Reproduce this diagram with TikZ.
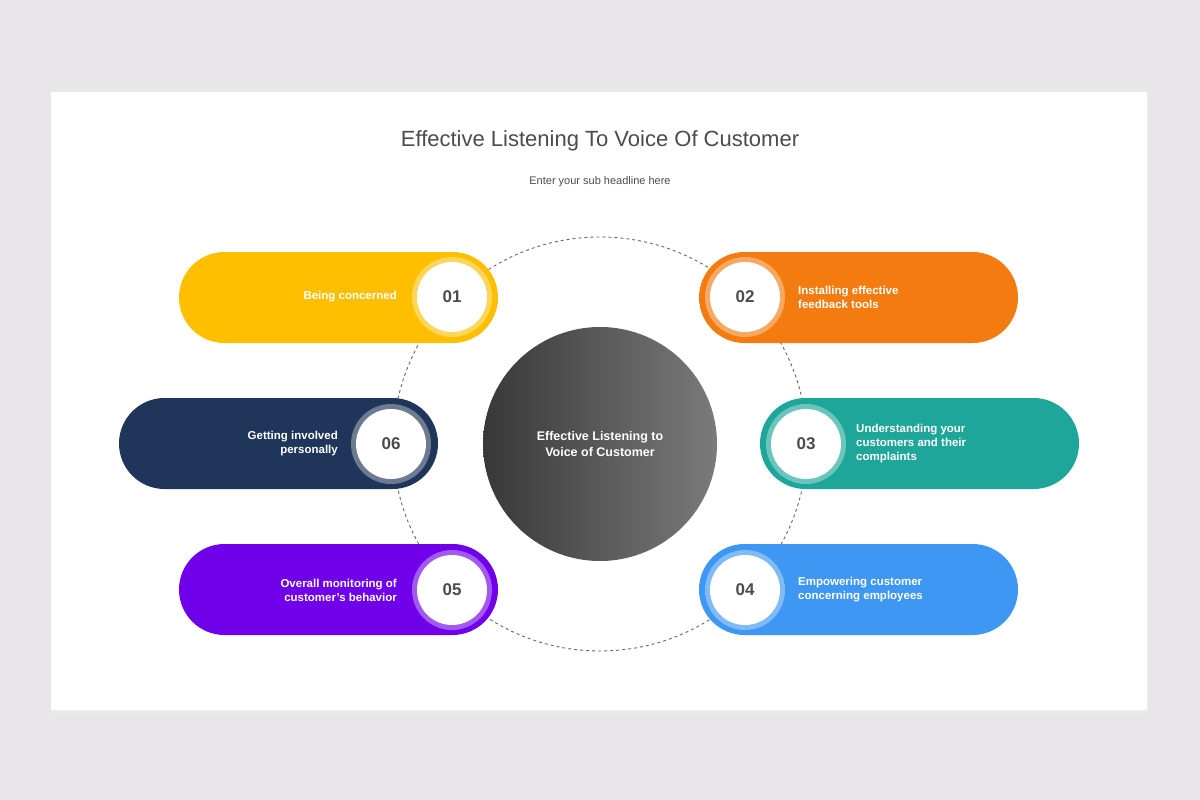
\documentclass[tikz,border=0pt]{standalone}
\usepackage{fontspec}
\setmainfont{Liberation Sans}
\begin{document}
\begin{tikzpicture}[x=1pt,y=-1pt,
  pilltxt/.style={text=white,font=\bfseries\fontsize{11.5}{14}\selectfont,align=#1,inner sep=0},
  numtxt/.style={text=black!70,font=\bfseries\fontsize{17}{20}\selectfont}]
\definecolor{bg}{HTML}{E8E6E8}
\definecolor{cA}{HTML}{FDBF00}\definecolor{cB}{HTML}{F47B10}\definecolor{cC}{HTML}{1EA69A}
\definecolor{cD}{HTML}{3E97F2}\definecolor{cE}{HTML}{7000EA}\definecolor{cF}{HTML}{1F3559}
\useasboundingbox (0,0) rectangle (1200,800);
\fill[bg] (0,0) rectangle (1200,800);
\fill[black!8] (53,95) rectangle (1149,713);
\fill[white] (51,92) rectangle (1147,710);
\node[text=black!70,font=\fontsize{22}{26}\selectfont] (title) at (600,141) {Effective Listening To Voice Of Customer};
\node[text=black!70,font=\fontsize{11}{13}\selectfont] (sub) at (600,182) {Enter your sub headline here};
\draw[black!60,dashed,line width=0.9] (600,444) circle[radius=207];
% pills
\newcommand{\pill}[6]{% x1,y1,x2,col,name,num
  \fill[#4] (#1,#2) [rounded corners=45.5] rectangle (#3,#2+91);
}
\pill{179}{252}{498}{cA}{}{}
\pill{699}{252}{1018}{cB}{}{}
\pill{119}{398}{438}{cF}{}{}
\pill{760}{398}{1079}{cC}{}{}
\pill{179}{544}{498}{cE}{}{}
\pill{699}{544}{1018}{cD}{}{}
\foreach \cx/\cy/\n/\c in {452/297/01/cA,745/297/02/cB,391/444/06/cF,806/444/03/cC,452/590/05/cE,745/590/04/cD}{
  \fill[white,opacity=0.35] (\cx,\cy) circle[radius=40];
  \fill[white] (\cx,\cy) circle[radius=35];
  \node[numtxt] (n\n) at (\cx,\cy) {\n};
}
\node[pilltxt=right,anchor=east] (t1) at (397,297) {Being concerned};
\node[pilltxt=left,anchor=west] (t2) at (798,297) {Installing effective\\feedback tools};
\node[pilltxt=right,anchor=east] (t6) at (338,444) {Getting involved\\personally};
\node[pilltxt=left,anchor=west] (t3) at (856,444) {Understanding your\\customers and their\\complaints};
\node[pilltxt=right,anchor=east] (t5) at (397,590) {Overall monitoring of\\customer's behavior};
\node[pilltxt=left,anchor=west] (t4) at (798,590) {Empowering customer\\concerning employees};
\shade[left color=black!78,right color=black!52] (600,444) circle[radius=117];
\node[text=white,font=\bfseries\fontsize{12.5}{16}\selectfont,align=center] (c) at (600,444) {Effective Listening to\\Voice of Customer};
\end{tikzpicture}
\end{document}
